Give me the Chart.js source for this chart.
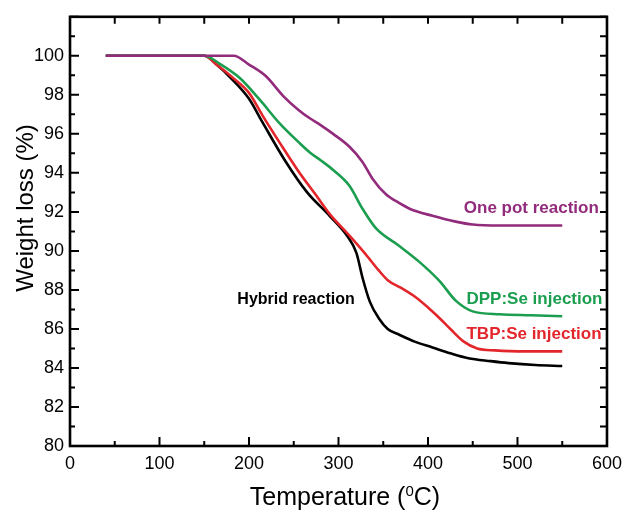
<!DOCTYPE html>
<html>
<head>
<meta charset="utf-8">
<script src="https://cdn.jsdelivr.net/npm/chart.js@4.4.1/dist/chart.umd.min.js"></script>
<style>
  html, body { margin: 0; padding: 0; background: #fff; }
  canvas { display: block; }
</style>
</head>
<body>
<canvas id="tgaChart" width="629" height="510"></canvas>
<script>
// =========================
// DATA
// =========================
const xTickValues = [0, 100, 200, 300, 400, 500, 600];
const yTickValues = [80, 82, 84, 86, 88, 90, 92, 94, 96, 98, 100];

const hybridTemp   = [40, 150, 165, 180, 200, 215, 240, 265, 290, 310, 320, 327, 335, 345, 355, 368, 385, 405, 425, 445, 470, 490, 520, 550];
const hybridWeight = [100, 100, 99.5, 98.85, 97.8, 96.6, 94.65, 93.0, 91.8, 90.75, 89.9, 88.6, 87.4, 86.55, 86.0, 85.7, 85.35, 85.05, 84.75, 84.5, 84.35, 84.25, 84.15, 84.1];

const tbpTemp   = [40, 150, 165, 180, 200, 215, 235, 255, 275, 290, 312, 330, 345, 355, 370, 387, 400, 413, 425, 440, 455, 475, 510, 550];
const tbpWeight = [100, 100, 99.5, 98.95, 98.1, 96.95, 95.5, 94.1, 92.85, 91.9, 90.8, 89.85, 89.0, 88.5, 88.1, 87.6, 87.1, 86.55, 86.0, 85.35, 85.0, 84.9, 84.85, 84.85];

const dppTemp   = [40, 150, 167, 190, 212, 234, 256, 268, 280, 294, 312, 327, 342, 368, 390, 413, 431, 450, 480, 515, 550];
const dppWeight = [100, 100, 99.6, 98.85, 97.75, 96.55, 95.55, 95.05, 94.65, 94.15, 93.35, 92.15, 91.15, 90.25, 89.45, 88.45, 87.45, 86.9, 86.75, 86.7, 86.65];

const onePotTemp   = [40, 183, 200, 219, 238, 256, 268, 280, 294, 312, 327, 338, 353, 368, 380, 405, 431, 450, 480, 550];
const onePotWeight = [100, 100, 99.55, 98.95, 97.95, 97.2, 96.8, 96.45, 96.0, 95.35, 94.55, 93.7, 92.9, 92.45, 92.15, 91.8, 91.5, 91.35, 91.3, 91.3];

// curve labels: text + anchor in data units (left edge, baseline)
const curveLabels = [
  { text: 'One pot reaction', x: 440, y: 91.95, color: '#922b7c', size: 17 },
  { text: 'DPP:Se injection', x: 443, y: 87.29, color: '#1b9e4f', size: 17 },
  { text: 'TBP:Se injection', x: 443, y: 85.49, color: '#e3262b', size: 17 },
  { text: 'Hybrid reaction',  x: 187, y: 87.27, color: '#000000', size: 16 }
];

const COL = {
  hybrid: '#000000',
  tbp:    '#e3262b',
  dpp:    '#1b9e4f',
  onePot: '#922b7c'
};

const FONT = '"Liberation Sans", Arial, sans-serif';

function pts(xs, ys) {
  return xs.map((x, i) => ({ x: x, y: ys[i] }));
}

function series(label, xs, ys, color) {
  return {
    label: label,
    data: pts(xs, ys),
    borderColor: color,
    backgroundColor: color,
    borderWidth: 2.6,
    pointRadius: 0,
    cubicInterpolationMode: 'monotone'
  };
}

// =========================
// FRAME, INWARD TICKS, TITLES, LABELS
// =========================
const framePlugin = {
  id: 'frame',
  afterDatasetsDraw(chart) {
    const { ctx, chartArea: a, scales: { x, y } } = chart;
    ctx.save();
    ctx.strokeStyle = '#000';
    ctx.lineCap = 'butt';

    // ticks (bottom/left major+minor, top/right all equal)
    ctx.lineWidth = 2;
    ctx.beginPath();
    for (let v = 0; v <= 600; v += 50) {
      const px = x.getPixelForValue(v);
      const len = v % 100 === 0 ? 9 : 5;
      ctx.moveTo(px, a.bottom); ctx.lineTo(px, a.bottom - len);
      ctx.moveTo(px, a.top);    ctx.lineTo(px, a.top + 7);
    }
    for (let v = 80; v <= 102; v += 1) {
      const py = y.getPixelForValue(v);
      const len = v % 2 === 0 ? 9 : 5;
      ctx.moveTo(a.left, py);  ctx.lineTo(a.left + len, py);
      ctx.moveTo(a.right, py); ctx.lineTo(a.right - 7, py);
    }
    ctx.stroke();

    // box
    ctx.lineWidth = 2.6;
    ctx.strokeRect(a.left, a.top, a.right - a.left, a.bottom - a.top);

    // curve labels
    ctx.textBaseline = 'alphabetic';
    ctx.textAlign = 'left';
    curveLabels.forEach(l => {
      ctx.fillStyle = l.color;
      ctx.font = 'bold ' + l.size + 'px ' + FONT;
      ctx.fillText(l.text, x.getPixelForValue(l.x), y.getPixelForValue(l.y));
    });

    // y title
    ctx.fillStyle = '#000';
    ctx.font = '24px ' + FONT;
    ctx.save();
    ctx.translate(33, 208);
    ctx.rotate(-Math.PI / 2);
    ctx.textAlign = 'center';
    ctx.fillText('Weight loss (%)', 0, 0);
    ctx.restore();

    // x title with superscript 0
    const big = '25px ' + FONT, small = '15px ' + FONT;
    const p1 = 'Temperature (', p2 = '0', p3 = 'C)';
    ctx.font = big;
    const w1 = ctx.measureText(p1).width, w3 = ctx.measureText(p3).width;
    ctx.font = small;
    const w2 = ctx.measureText(p2).width;
    let sx = 345 - (w1 + w2 + w3) / 2;
    const base = 505;
    ctx.textAlign = 'left';
    ctx.font = big;  ctx.fillText(p1, sx, base); sx += w1;
    ctx.font = small; ctx.fillText(p2, sx, base - 9); sx += w2;
    ctx.font = big;  ctx.fillText(p3, sx, base);
    ctx.restore();
  }
};

// =========================
// CHART
// =========================
const ctx = document.getElementById('tgaChart');

new Chart(ctx, {
  type: 'line',
  data: {
    datasets: [
      series('One pot reaction', onePotTemp, onePotWeight, COL.onePot),
      series('DPP:Se injection', dppTemp, dppWeight, COL.dpp),
      series('TBP:Se injection', tbpTemp, tbpWeight, COL.tbp),
      series('Hybrid reaction', hybridTemp, hybridWeight, COL.hybrid)
    ]
  },
  options: {
    responsive: false,
    animation: false,
    layout: { padding: { top: 15, right: 21, left: 0, bottom: 0 } },
    plugins: {
      legend: { display: false },
      tooltip: { enabled: false }
    },
    scales: {
      x: {
        type: 'linear',
        min: 0, max: 600,
        grid: { display: false, drawTicks: false },
        border: { display: false },
        afterBuildTicks: s => { s.ticks = xTickValues.map(v => ({ value: v })); },
        afterFit: s => { s.height = 64; },
        ticks: {
          color: '#000',
          padding: 7,
          maxRotation: 0,
          font: { family: FONT, size: 18 }
        }
      },
      y: {
        min: 80, max: 102,
        grid: { display: false, drawTicks: false },
        border: { display: false },
        afterBuildTicks: s => { s.ticks = yTickValues.map(v => ({ value: v })); },
        afterFit: s => { s.width = 70; },
        ticks: {
          color: '#000',
          padding: 6,
          font: { family: FONT, size: 18 }
        }
      }
    }
  },
  plugins: [framePlugin]
});
</script>
</body>
</html>
